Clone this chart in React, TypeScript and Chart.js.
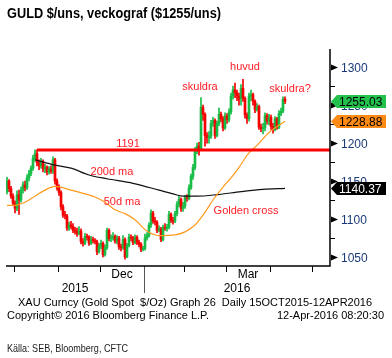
import React, { useEffect, useRef } from 'react';
import { Chart, registerables } from 'chart.js';

Chart.register(...registerables);

// Daily OHLC, trading day index 0 = 25 Sep 2015 ... 139 = 12 Apr 2016
const opens = [
  1136, 1150, 1140, 1130, 1121, 1114, 1132, 1125, 1138, 1145,
  1141, 1154, 1160, 1167, 1180, 1186, 1174, 1170, 1176, 1166,
  1168, 1162, 1166, 1163, 1178, 1150, 1142, 1135, 1116, 1105,
  1104, 1088, 1092, 1090, 1085, 1084, 1081, 1084, 1070, 1068,
  1077, 1076, 1068, 1073, 1071, 1070, 1057, 1064, 1068, 1053,
  1062, 1085, 1074, 1075, 1077, 1071, 1075, 1063, 1062, 1073,
  1050, 1065, 1076, 1075, 1069, 1076, 1069, 1067, 1060, 1061,
  1075, 1078, 1092, 1108, 1097, 1096, 1085, 1087, 1073, 1089,
  1088, 1089, 1106, 1098, 1097, 1107, 1119, 1126, 1114, 1117,
  1128, 1127, 1141, 1156, 1168, 1190, 1196, 1192, 1247, 1238,
  1210, 1207, 1209, 1226, 1230, 1210, 1226, 1238, 1232, 1220,
  1236, 1231, 1241, 1262, 1270, 1266, 1262, 1258, 1272, 1259,
  1237, 1232, 1262, 1264, 1255, 1244, 1248, 1221, 1219, 1220,
  1236, 1229, 1234, 1222, 1218, 1232, 1221, 1239, 1242, 1258,
];
const highs = [
  1155, 1152, 1143, 1133, 1124, 1137, 1138, 1142, 1149, 1150,
  1158, 1164, 1170, 1184, 1191, 1191, 1178, 1180, 1178, 1172,
  1170, 1169, 1170, 1182, 1180, 1153, 1145, 1137, 1119, 1110,
  1106, 1096, 1097, 1094, 1089, 1088, 1090, 1087, 1074, 1081,
  1080, 1078, 1077, 1076, 1074, 1072, 1068, 1072, 1070, 1066,
  1088, 1087, 1079, 1082, 1079, 1078, 1077, 1067, 1078, 1075,
  1068, 1080, 1079, 1077, 1079, 1078, 1072, 1069, 1064, 1080,
  1082, 1095, 1112, 1110, 1102, 1098, 1091, 1089, 1092, 1094,
  1093, 1110, 1108, 1102, 1110, 1123, 1130, 1128, 1122, 1131,
  1132, 1145, 1159, 1172, 1194, 1200, 1201, 1260, 1250, 1240,
  1214, 1215, 1230, 1234, 1232, 1229, 1246, 1241, 1235, 1240,
  1239, 1245, 1266, 1275, 1279, 1270, 1266, 1277, 1284, 1261,
  1240, 1266, 1270, 1266, 1257, 1252, 1250, 1225, 1226, 1240,
  1239, 1238, 1237, 1226, 1235, 1234, 1243, 1246, 1261, 1261,
];
const lows = [
  1133, 1136, 1127, 1118, 1108, 1111, 1106, 1122, 1134, 1137,
  1139, 1150, 1157, 1164, 1176, 1170, 1165, 1167, 1162, 1161,
  1158, 1159, 1160, 1160, 1146, 1138, 1131, 1112, 1102, 1100,
  1085, 1085, 1087, 1082, 1080, 1077, 1079, 1067, 1064, 1066,
  1072, 1065, 1066, 1068, 1067, 1053, 1055, 1061, 1050, 1051,
  1060, 1071, 1070, 1072, 1068, 1067, 1060, 1058, 1060, 1047,
  1049, 1063, 1071, 1066, 1067, 1066, 1063, 1057, 1058, 1059,
  1072, 1076, 1089, 1094, 1092, 1082, 1083, 1070, 1071, 1085,
  1084, 1087, 1095, 1093, 1095, 1104, 1116, 1110, 1110, 1114,
  1123, 1125, 1139, 1152, 1165, 1186, 1184, 1190, 1230, 1196,
  1200, 1200, 1206, 1222, 1206, 1208, 1223, 1228, 1216, 1218,
  1226, 1228, 1238, 1258, 1260, 1256, 1250, 1250, 1255, 1233,
  1226, 1229, 1256, 1250, 1240, 1242, 1218, 1215, 1212, 1216,
  1225, 1224, 1218, 1213, 1216, 1218, 1219, 1236, 1240, 1252,
];
const closes = [
  1150, 1140, 1130, 1121, 1114, 1132, 1125, 1138, 1145, 1141,
  1154, 1160, 1167, 1180, 1186, 1174, 1170, 1176, 1166, 1168,
  1162, 1166, 1163, 1178, 1150, 1142, 1135, 1116, 1105, 1104,
  1088, 1092, 1090, 1085, 1084, 1081, 1084, 1070, 1068, 1077,
  1076, 1068, 1073, 1071, 1070, 1057, 1064, 1068, 1053, 1062,
  1085, 1074, 1075, 1077, 1071, 1075, 1063, 1062, 1073, 1050,
  1065, 1076, 1075, 1069, 1076, 1069, 1067, 1060, 1061, 1075,
  1078, 1092, 1108, 1097, 1096, 1085, 1087, 1073, 1089, 1088,
  1089, 1106, 1098, 1097, 1107, 1119, 1126, 1114, 1117, 1128,
  1127, 1141, 1156, 1168, 1190, 1196, 1192, 1247, 1238, 1210,
  1207, 1209, 1226, 1230, 1210, 1226, 1238, 1232, 1220, 1236,
  1231, 1241, 1262, 1270, 1266, 1262, 1258, 1272, 1259, 1237,
  1232, 1262, 1264, 1255, 1244, 1248, 1221, 1219, 1220, 1236,
  1229, 1234, 1222, 1218, 1232, 1221, 1239, 1242, 1258, 1255,
];

// Moving averages (day index -> value)
const ma200Days = [14, 24, 32, 41, 50, 63, 76, 83, 88, 95, 105, 117, 128, 139];
const ma200Values = [1178, 1171, 1167, 1158, 1153, 1147, 1138, 1133, 1130, 1130, 1132, 1136, 1139, 1140.37];
const ma50Days = [0, 4, 9, 14, 19, 24, 32, 39, 44, 49, 54, 59, 64, 70, 76, 84, 89, 94, 98, 103, 108, 112, 116, 121, 125, 131, 139];
const ma50Values = [1118, 1118, 1122, 1130, 1138, 1143, 1138, 1133, 1129, 1122, 1112, 1107, 1099, 1084, 1078, 1079, 1083, 1092, 1105, 1125, 1142, 1154, 1168, 1187, 1197, 1214, 1228.88];

// Resistance level
const levelValue = 1191;
const levelStartDay = 15;

// Axes
const xMin = -0.5;
const xMax = 161.5;
const yMin = 1038;
const yMax = 1324;
const yMajorTicks = [1050, 1100, 1150, 1200, 1250, 1300];
const yMinorTicks = [1075, 1125, 1175, 1225, 1275];
const monthBoundaries = [3.5, 25.5, 46.5, 68.5, 88.5, 109.5, 131.5, 152.5];
const monthLabels = ['Dec', 'Mar'];
const monthLabelDays = [57.5, 120.5];
const yearLabels = ['2015', '2016'];
const yearLabelDays = [34, 115];
const yearBoundary = 68.5;

// Last-value tags
const tagValues = [1255.03, 1228.88, 1140.37];
const tagFills = ['#21c14c', '#ff8a14', '#000000'];
const tagTextColors = ['#000000', '#000000', '#ffffff'];

// Annotations
const noteTexts = ['1191', '200d ma', '50d ma', 'Golden cross', 'skuldra', 'huvud', 'skuldra?'];
const noteDays = [60.5, 52.5, 57.5, 119.5, 96.5, 119, 141.5];
const notePrices = [1199, 1162, 1122, 1110, 1274, 1300, 1271];

const titleText = 'GULD $/uns, veckograf ($1255/uns)';
const infoText = 'XAU Curncy (Gold Spot  $/Oz) Graph 26  Daily 15OCT2015-12APR2016';
const copyrightText = 'Copyright\u00a9 2016 Bloomberg Finance L.P.';
const stampText = '12-Apr-2016 08:20:30';
const sourceText = 'K\u00e4lla: SEB, Bloomberg, CFTC';

const UP = '#18bd48';
const DOWN = '#f50000';
const NOTE_RED = '#ff1c24';
const FONT = '"Liberation Sans", Arial, sans-serif';

const overlayPlugin = {
  id: 'overlay',
  afterDatasetsDraw(chart: any) {
    const { ctx } = chart;
    const xs = chart.scales.x;
    const ys = chart.scales.y;
    ctx.save();
    ctx.font = `11px ${FONT}`;
    ctx.fillStyle = NOTE_RED;
    ctx.textAlign = 'center';
    ctx.textBaseline = 'middle';
    noteTexts.forEach((t, i) => {
      ctx.fillText(t, xs.getPixelForValue(noteDays[i]), ys.getPixelForValue(notePrices[i]));
    });
    ctx.restore();
  },
  afterDraw(chart: any) {
    const { ctx, chartArea } = chart;
    const { left, right, top, bottom } = chartArea;
    const xs = chart.scales.x;
    const ys = chart.scales.y;
    ctx.save();

    // axis frame (right and bottom)
    ctx.strokeStyle = '#000';
    ctx.lineWidth = 1.5;
    ctx.beginPath();
    ctx.moveTo(right, top);
    ctx.lineTo(right, bottom);
    ctx.lineTo(left, bottom);
    ctx.stroke();

    // minor y ticks
    ctx.lineWidth = 1;
    yMinorTicks.forEach((v) => {
      const py = Math.round(ys.getPixelForValue(v)) + 0.5;
      ctx.beginPath();
      ctx.moveTo(right, py);
      ctx.lineTo(right + 5, py);
      ctx.stroke();
    });

    // major y ticks (triangles) and labels
    ctx.font = `12px ${FONT}`;
    ctx.textAlign = 'left';
    ctx.textBaseline = 'middle';
    yMajorTicks.forEach((v) => {
      const py = Math.round(ys.getPixelForValue(v)) + 0.5;
      ctx.fillStyle = '#000';
      ctx.beginPath();
      ctx.moveTo(right + 1, py - 3);
      ctx.lineTo(right + 8, py);
      ctx.lineTo(right + 1, py + 3);
      ctx.closePath();
      ctx.fill();
      ctx.fillStyle = '#1a3a78';
      ctx.fillText(String(v), right + 11, py + 1);
    });

    // last value tags
    tagValues.forEach((v, i) => {
      const py = Math.round(ys.getPixelForValue(v)) + 0.5;
      ctx.fillStyle = tagFills[i];
      ctx.beginPath();
      ctx.moveTo(right + 1, py);
      ctx.lineTo(right + 7, py - 6.5);
      ctx.lineTo(386, py - 6.5);
      ctx.lineTo(386, py + 6.5);
      ctx.lineTo(right + 7, py + 6.5);
      ctx.closePath();
      ctx.fill();
      ctx.fillStyle = tagTextColors[i];
      ctx.fillText(v.toFixed(2), right + 9, py + 1);
    });

    // x ticks at month boundaries
    ctx.strokeStyle = '#000';
    ctx.lineWidth = 1;
    monthBoundaries.forEach((d) => {
      const px = Math.round(xs.getPixelForValue(d)) + 0.5;
      ctx.beginPath();
      ctx.moveTo(px, bottom);
      ctx.lineTo(px, bottom + 6);
      ctx.stroke();
    });
    // year separator
    const sx = Math.round(xs.getPixelForValue(yearBoundary)) + 0.5;
    ctx.strokeStyle = '#555';
    ctx.beginPath();
    ctx.moveTo(sx, bottom + 1);
    ctx.lineTo(sx, bottom + 27);
    ctx.stroke();

    ctx.fillStyle = '#000';
    ctx.textAlign = 'center';
    ctx.textBaseline = 'alphabetic';
    monthLabels.forEach((t, i) => {
      ctx.fillText(t, xs.getPixelForValue(monthLabelDays[i]), bottom + 12);
    });
    yearLabels.forEach((t, i) => {
      ctx.fillText(t, xs.getPixelForValue(yearLabelDays[i]), bottom + 26);
    });

    // title
    ctx.textAlign = 'left';
    ctx.font = `bold 14px ${FONT}`;
    ctx.fillText(titleText, 7, 18, 214);

    // footer
    ctx.font = `11px ${FONT}`;
    ctx.fillText(infoText, 18, 306, 354);
    ctx.fillText(copyrightText, 7, 319, 202);
    ctx.textAlign = 'right';
    ctx.fillText(stampText, 384, 319, 114);
    ctx.textAlign = 'left';
    ctx.fillStyle = '#222';
    ctx.fillText(sourceText, 7, 352, 121);

    ctx.restore();
  },
};

export default function App() {
  const ref = useRef<HTMLCanvasElement>(null);

  useEffect(() => {
    if (!ref.current) return;
    const candleColors = closes.map((c, i) => (c >= opens[i] ? UP : DOWN));
    const chart = new Chart(ref.current, {
      type: 'bar',
      data: {
        datasets: [
          {
            type: 'line',
            label: '1191',
            data: [
              { x: levelStartDay, y: levelValue },
              { x: xMax, y: levelValue },
            ],
            borderColor: '#ff0000',
            borderWidth: 3,
            pointRadius: 0,
            order: 0,
          } as any,
          {
            type: 'line',
            label: '50d ma',
            data: ma50Days.map((d, i) => ({ x: d, y: ma50Values[i] })),
            borderColor: '#ff9a1e',
            borderWidth: 1.2,
            pointRadius: 0,
            cubicInterpolationMode: 'monotone',
            order: 1,
          } as any,
          {
            type: 'line',
            label: '200d ma',
            data: ma200Days.map((d, i) => ({ x: d, y: ma200Values[i] })),
            borderColor: '#111111',
            borderWidth: 1.2,
            pointRadius: 0,
            cubicInterpolationMode: 'monotone',
            order: 2,
          } as any,
          {
            type: 'bar',
            label: 'body',
            data: closes.map((c, i) => ({ x: i, y: [opens[i], c] })),
            backgroundColor: candleColors,
            borderWidth: 0,
            barThickness: 2,
            grouped: false,
            order: 3,
          } as any,
          {
            type: 'bar',
            label: 'wick',
            data: closes.map((_, i) => ({ x: i, y: [lows[i], highs[i]] })),
            backgroundColor: candleColors,
            borderWidth: 0,
            barThickness: 1,
            grouped: false,
            order: 4,
          } as any,
        ],
      },
      options: {
        responsive: false,
        animation: false,
        devicePixelRatio: 1,
        layout: { padding: { left: 6, right: 62, top: 49, bottom: 92 } },
        plugins: {
          legend: { display: false },
          tooltip: { enabled: false },
        },
        scales: {
          x: { type: 'linear', min: xMin, max: xMax, display: false, offset: false },
          y: { type: 'linear', min: yMin, max: yMax, display: false },
        },
      } as any,
      plugins: [overlayPlugin],
    });
    return () => chart.destroy();
  }, []);

  return (
    <div style={{ position: 'fixed', left: 0, top: 0, width: 392, height: 358, background: '#fff' }}>
      <canvas ref={ref} width={392} height={358} style={{ display: 'block', width: 392, height: 358 }} />
    </div>
  );
}
